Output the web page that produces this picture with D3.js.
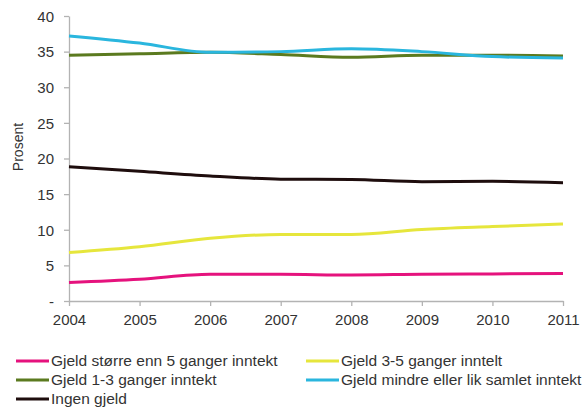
<!DOCTYPE html>
<html>
<head>
<meta charset="utf-8">
<script src="https://cdn.jsdelivr.net/npm/d3@7"></script>
<style>
  html, body { margin: 0; padding: 0; background: #fff; }
  svg { display: block; font-family: "Liberation Sans", Arial, sans-serif; }
</style>
</head>
<body>
<svg id="chart" width="584" height="409"></svg>
<script>
// Andel husholdninger etter gjeldsnivå, 2004–2011 (prosent)
const years = [2004, 2005, 2006, 2007, 2008, 2009, 2010, 2011];
const yTicks = [0, 5, 10, 15, 20, 25, 30, 35, 40];

const seriesNames = [
  "Gjeld større enn 5 ganger inntekt",
  "Gjeld 3-5 ganger inntelt",
  "Gjeld 1-3 ganger inntekt",
  "Gjeld mindre eller lik samlet inntekt",
  "Ingen gjeld"
];
const seriesColors = ["#e5127d", "#e6e63c", "#5b7a1f", "#2ab6de", "#1e0d0d"];

const over5 = [2.6, 3.05, 3.75, 3.75, 3.65, 3.75, 3.8, 3.85];
const from3to5 = [6.8, 7.6, 8.8, 9.35, 9.35, 10.05, 10.45, 10.8];
const from1to3 = [34.5, 34.7, 34.9, 34.6, 34.2, 34.5, 34.5, 34.4];
const upTo1 = [37.2, 36.2, 34.9, 35.0, 35.4, 35.0, 34.3, 34.1];
const noDebt = [18.85, 18.2, 17.55, 17.1, 17.05, 16.75, 16.8, 16.6];

const seriesValues = [over5, from3to5, from1to3, upTo1, noDebt];
// draw order: lower series first so the top pair overlaps as usual
const drawOrder = [0, 1, 4, 2, 3];

const svg = d3.select("#chart");
const margin = { left: 69, right: 21, top: 16, bottom: 108 };
const W = 584, H = 409;

const x = d3.scaleLinear()
  .domain([2004, 2011])
  .range([margin.left, W - margin.right]);
const y = d3.scaleLinear()
  .domain([0, 40])
  .range([H - margin.bottom, margin.top]);

const axisColor = "#b3b3b3";
const textColor = "#333";

// x axis
const xAxis = svg.append("g")
  .attr("transform", `translate(0,${y(0)})`)
  .call(d3.axisBottom(x).tickValues(years).tickFormat(d3.format("d")).tickSize(5).tickSizeOuter(0).tickPadding(8));
// y axis
const yAxis = svg.append("g")
  .attr("transform", `translate(${x(2004)},0)`)
  .call(d3.axisLeft(y).tickValues(yTicks)
    .tickFormat(d => d === 0 ? "-" : d)
    .tickSize(5).tickSizeOuter(0).tickPadding(10));

[xAxis, yAxis].forEach(g => {
  g.select(".domain").attr("stroke", axisColor).attr("stroke-width", 1.3);
  g.selectAll(".tick line").attr("stroke", axisColor).attr("stroke-width", 1.3);
  g.selectAll(".tick text")
    .attr("fill", textColor)
    .style("font-size", "15px")
    .style("font-family", "'Liberation Sans', Arial, sans-serif");
});
yAxis.selectAll(".tick text").attr("dy", "0.35em");

// y axis title
svg.append("text")
  .attr("transform", `translate(23,147) rotate(-90)`)
  .attr("text-anchor", "middle")
  .attr("fill", textColor)
  .style("font-size", "14px")
  .text("Prosent");

// lines
const line = d3.line()
  .x((d, i) => x(years[i]))
  .y(d => y(d))
  .curve(d3.curveMonotoneX);

svg.append("g")
  .selectAll("path")
  .data(drawOrder)
  .join("path")
  .attr("d", i => line(seriesValues[i]))
  .attr("fill", "none")
  .attr("stroke", i => seriesColors[i])
  .attr("stroke-width", 3)
  .attr("stroke-linejoin", "round");

// legend
const legendPos = [
  { x: 16, y: 361 }, { x: 306, y: 361 },
  { x: 16, y: 380 }, { x: 306, y: 380 },
  { x: 16, y: 399 }
];
const legend = svg.append("g")
  .selectAll("g")
  .data(seriesNames)
  .join("g")
  .attr("transform", (d, i) => `translate(${legendPos[i].x},${legendPos[i].y})`);
legend.append("line")
  .attr("x1", 0).attr("x2", 33)
  .attr("stroke", (d, i) => seriesColors[i])
  .attr("stroke-width", 3);
legend.append("text")
  .attr("x", 35)
  .attr("dy", "0.35em")
  .attr("fill", textColor)
  .style("font-size", "15.5px")
  .text(d => d);
</script>
</body>
</html>
